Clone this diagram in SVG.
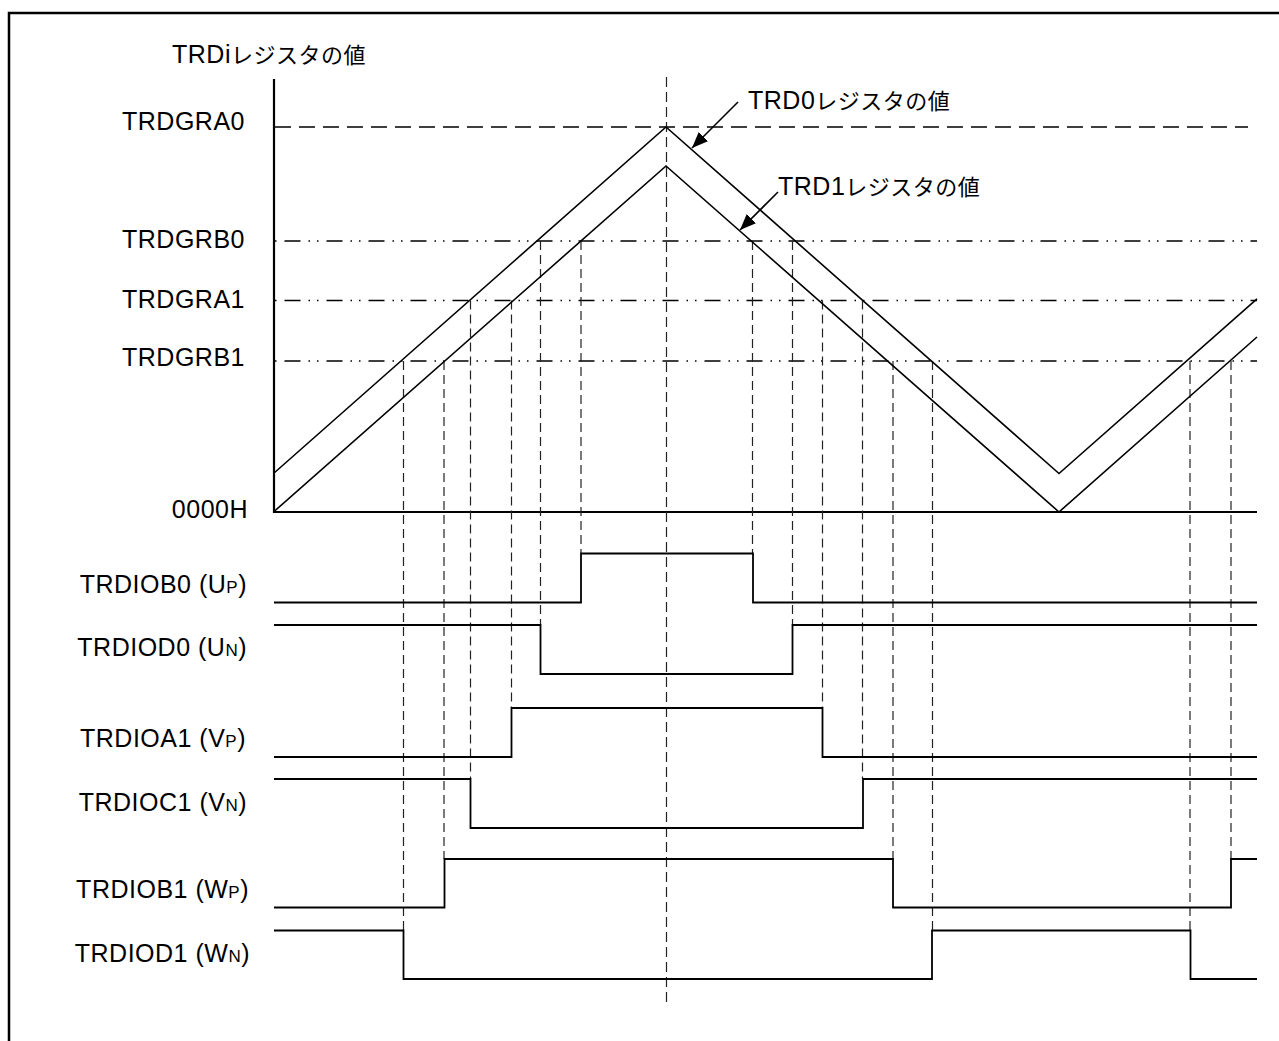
<svg xmlns="http://www.w3.org/2000/svg" width="1279" height="1041" viewBox="0 0 1279 1041">
<style>
.lbl{font-family:"Liberation Sans","Noto Sans CJK JP",Arial,sans-serif;font-size:25px;fill:#000;letter-spacing:0.5px}
.cjk{font-family:"Noto Sans CJK JP","Liberation Sans",sans-serif;font-size:22px}
.sub{font-size:17px}
.axis{fill:none;stroke:#000;stroke-width:2.2}
.tri{fill:none;stroke:#000;stroke-width:1.6}
.wave{fill:none;stroke:#000;stroke-width:1.8}
.dash{fill:none;stroke:#222;stroke-width:1.2;stroke-dasharray:9 5}
.hdash{fill:none;stroke:#000;stroke-width:1.4;stroke-dasharray:16 8}
.ddot{fill:none;stroke:#000;stroke-width:1.4;stroke-dasharray:1.5 8 16 8 1.5 7}
.arr{fill:none;stroke:#000;stroke-width:1.6}
</style>
<defs>
<marker id="ah" markerUnits="userSpaceOnUse" markerWidth="18" markerHeight="14" refX="16" refY="6.5" orient="auto">
<path d="M0,0 L16,6.5 L0,13 Z" fill="#000"/>
</marker>
</defs>
<rect width="1279" height="1041" fill="#fff"/>
<path d="M9,1041 V13 H1279" fill="none" stroke="#000" stroke-width="2.5"/>

<g id="axes">
<path class="axis" d="M274,79 V512 H1257"/>
</g>

<g id="reference-lines">
<path class="hdash" d="M275,127 H1248"/>
<path class="ddot" d="M275,241 H1257"/>
<path class="ddot" d="M275,300.5 H1257"/>
<path class="ddot" d="M275,361 H1257"/>
</g>

<g id="connectors">
<path class="dash" style="stroke-dasharray:10 5" d="M666.5,77 V1006"/>
<path class="dash" d="M403.5,361 V930"/>
<path class="dash" d="M444,361 V859"/>
<path class="dash" d="M470.5,300.5 V779"/>
<path class="dash" d="M511.5,300.5 V708"/>
<path class="dash" d="M540.5,241 V625"/>
<path class="dash" d="M581,241 V553.5"/>
<path class="dash" d="M752.5,241 V553.5"/>
<path class="dash" d="M792.5,241 V625"/>
<path class="dash" d="M822.5,300.5 V708"/>
<path class="dash" d="M862.5,300.5 V779"/>
<path class="dash" d="M893,361 V859"/>
<path class="dash" d="M932.5,361 V930"/>
<path class="dash" d="M1190,361 V930"/>
<path class="dash" d="M1231,361 V859"/>
<path class="arr" marker-end="url(#ah)" d="M738,102 L692,148"/>
<path class="arr" marker-end="url(#ah)" d="M778,192 L740,230"/>
</g>

<g id="trd0-counter">
<polyline class="tri" points="273.5,473.5 666,127 1059,473.5 1257,298.8"/>
</g>
<g id="trd1-counter">
<polyline class="tri" points="273.5,512 666,166 1059,512 1257,337"/>
</g>

<g id="labels-axis">
<text class="lbl" x="172" y="63">TRDi<tspan class="cjk">レジスタの値</tspan></text>
<text class="lbl" x="245" y="130" text-anchor="end">TRDGRA0</text>
<text class="lbl" x="245" y="248" text-anchor="end">TRDGRB0</text>
<text class="lbl" x="245" y="308" text-anchor="end">TRDGRA1</text>
<text class="lbl" x="245" y="366" text-anchor="end">TRDGRB1</text>
<text class="lbl" x="248" y="518" text-anchor="end">0000H</text>
<text class="lbl" x="748" y="109">TRD0<tspan class="cjk">レジスタの値</tspan></text>
<text class="lbl" x="778" y="195">TRD1<tspan class="cjk">レジスタの値</tspan></text>
</g>

<g id="sig-trdiob0">
<text class="lbl" x="247" y="593" text-anchor="end">TRDIOB0 (U<tspan class="sub">P</tspan>)</text>
<path class="wave" d="M274,602.5 H581 V553.5 H753 V602.5 H1257"/>
</g>
<g id="sig-trdiod0">
<text class="lbl" x="247" y="656" text-anchor="end">TRDIOD0 (U<tspan class="sub">N</tspan>)</text>
<path class="wave" d="M274,625 H540.5 V674 H792.5 V625 H1257"/>
</g>
<g id="sig-trdioa1">
<text class="lbl" x="246" y="747" text-anchor="end">TRDIOA1 (V<tspan class="sub">P</tspan>)</text>
<path class="wave" d="M274,757 H511.5 V708 H822.5 V757 H1257"/>
</g>
<g id="sig-trdioc1">
<text class="lbl" x="247" y="811" text-anchor="end">TRDIOC1 (V<tspan class="sub">N</tspan>)</text>
<path class="wave" d="M274,779 H470.5 V828 H863 V779 H1257"/>
</g>
<g id="sig-trdiob1">
<text class="lbl" x="249" y="898" text-anchor="end">TRDIOB1 (W<tspan class="sub">P</tspan>)</text>
<path class="wave" d="M274,907.5 H444.5 V859 H893 V907.5 H1231 V859 H1257"/>
</g>
<g id="sig-trdiod1">
<text class="lbl" x="250" y="962" text-anchor="end">TRDIOD1 (W<tspan class="sub">N</tspan>)</text>
<path class="wave" d="M274,930.5 H403.5 V979 H932 V930.5 H1190.5 V979 H1257"/>
</g>
</svg>
